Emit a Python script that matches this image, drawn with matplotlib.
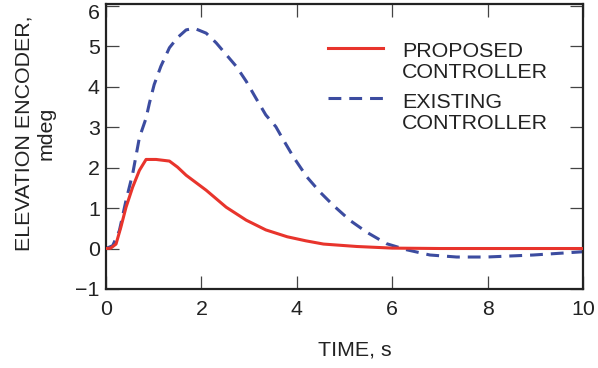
import numpy as np
import matplotlib
matplotlib.use("Agg")
import matplotlib.pyplot as plt
from matplotlib.legend_handler import HandlerLine2D

# Data
t_prop = [0, 0.1, 0.21, 0.31, 0.42, 0.56, 0.70, 0.84, 1.05, 1.33, 1.50, 1.68, 2.10, 2.52, 2.94, 3.35, 3.80, 4.19, 4.56, 5.26, 6.0, 7.0, 8.0, 9.0, 10.0]
y_prop = [0, 0.01, 0.11, 0.52, 1.02, 1.52, 1.93, 2.20, 2.20, 2.16, 2.01, 1.81, 1.44, 1.02, 0.70, 0.46, 0.29, 0.19, 0.11, 0.05, 0.01, 0.0, 0.0, 0.0, 0.0]

t_exist = [0, 0.14, 0.28, 0.42, 0.56, 0.70, 0.84, 0.91, 1.01, 1.15, 1.33, 1.50, 1.68, 1.85, 2.10, 2.31, 2.52, 2.73, 2.94, 3.14, 3.35, 3.56, 3.70, 3.93, 4.21, 4.49, 4.77, 5.12, 5.47, 5.88, 6.30, 6.79, 7.35, 7.98, 8.96, 10.0]
y_exist = [0, 0.07, 0.44, 1.19, 1.85, 2.74, 3.22, 3.59, 4.05, 4.50, 4.96, 5.21, 5.40, 5.44, 5.32, 5.08, 4.79, 4.50, 4.13, 3.72, 3.30, 3.01, 2.72, 2.26, 1.77, 1.39, 1.06, 0.69, 0.40, 0.12, -0.03, -0.16, -0.21, -0.21, -0.16, -0.08]

labels = ["PROPOSED\nCONTROLLER", "EXISTING\nCONTROLLER"]
xticks = [0, 2, 4, 6, 8, 10]
yticks = [-1, 0, 1, 2, 3, 4, 5, 6]

plt.rcParams['font.family'] = ['Liberation Sans', 'DejaVu Sans']
FS = 15.4
TXT = '#222222'

fig = plt.figure(figsize=(5.98, 3.68), dpi=100)
ax = fig.add_axes([106/598, 1 - 289/368, (583-106)/598, (289-4)/368])

red = '#e8342c'
blue = '#3c4ca0'
l1, = ax.plot(t_prop, y_prop, color=red, lw=2.2, label=labels[0], zorder=3)
l2, = ax.plot(t_exist, y_exist, color=blue, lw=2.2, dashes=(4.2, 2.6), label=labels[1], zorder=2)

ax.set_xlim(0, 10)
ax.set_ylim(-1, 6.04)
ax.set_xticks(xticks)
ax.set_yticks(yticks)
ylab = ['\u22121' if v < 0 else str(v) for v in yticks]
ax.set_yticklabels(ylab[:-1] + [''])
ax.tick_params(direction='in', length=9.5, width=0.9, color='#444444', labelsize=FS,
               top=True, right=True, labelcolor=TXT)
ax.tick_params(axis='x', pad=8)
ax.tick_params(axis='y', pad=4.5)
for s in ax.spines.values():
    s.set_linewidth(1.6)
    s.set_color(TXT)

# top tick label is nudged down in the reference to stay inside the figure
ax.annotate(ylab[-1], xy=(0, yticks[-1]), xycoords=('axes fraction', 'data'),
            xytext=(-4.5, -6), textcoords='offset points', ha='right', va='center',
            fontsize=FS, color=TXT)

ax.set_xlabel("TIME, s", fontsize=FS, color=TXT)
ax.xaxis.set_label_coords((355-106)/(583-106), -(356-289)/(289-4))
ax.xaxis.label.set_va('baseline')

ax.set_ylabel("ELEVATION ENCODER,\nmdeg", fontsize=FS, color=TXT, linespacing=1.15)
ax.yaxis.set_label_coords(-(106-35)/(583-106), (289-133)/(289-4))
ax.yaxis.label.set_va('center')


class TopHandler(HandlerLine2D):
    def create_artists(self, legend, orig_handle, xdescent, ydescent, width, height, fontsize, trans):
        arts = super().create_artists(legend, orig_handle, xdescent, ydescent, width, height, fontsize, trans)
        for a in arts:
            a.set_ydata(np.asarray(a.get_ydata()) + 0.68 * fontsize)
        return arts


leg = ax.legend(handles=[l1, l2], loc='upper left', bbox_to_anchor=((328-106)/477, 1 - (42-4)/285),
                frameon=False, fontsize=FS, handlelength=2.55, handletextpad=0.9,
                labelspacing=0.5, borderpad=0, borderaxespad=0,
                handler_map={l1: TopHandler(), l2: TopHandler()})
for txt in leg.get_texts():
    txt.set_linespacing(1.14)
    txt.set_color(TXT)

fig.savefig('out.png', dpi=100)
